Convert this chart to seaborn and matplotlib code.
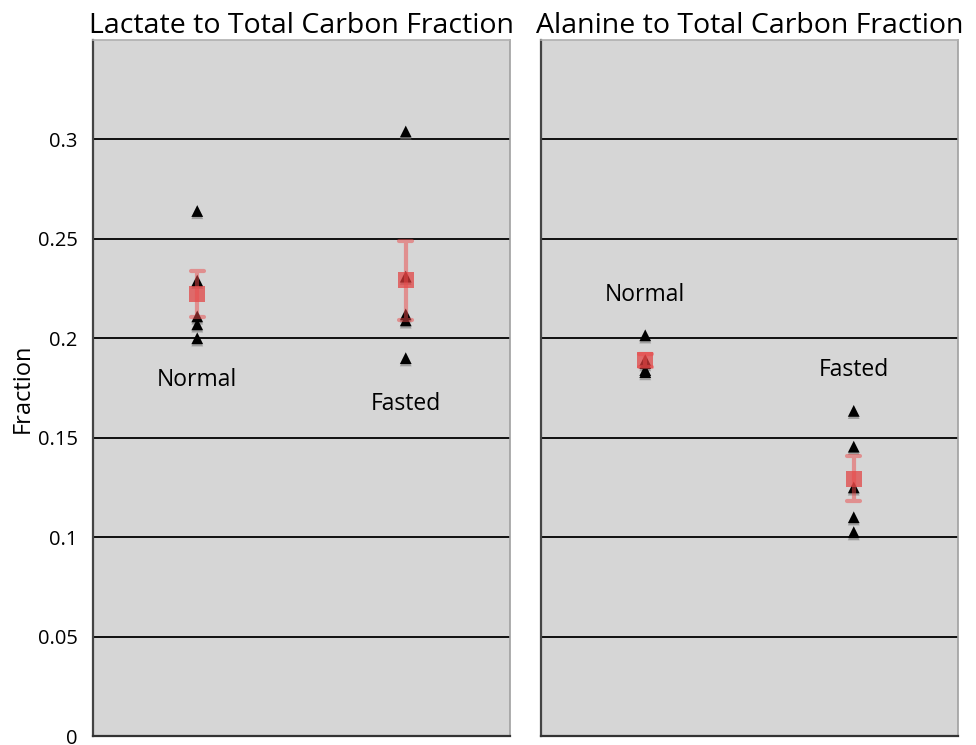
import matplotlib
matplotlib.use("Agg")
import matplotlib.pyplot as plt
import matplotlib.patheffects as pe
from matplotlib.ticker import FuncFormatter
import numpy as np
import pandas as pd
import seaborn as sns

# Carbon fraction measurements per animal
groups = ["Normal", "Fasted"]
lactate_normal = [0.264, 0.229, 0.211, 0.207, 0.200]
lactate_fasted = [0.304, 0.231, 0.212, 0.209, 0.190]
alanine_normal = [0.2015, 0.189, 0.1875, 0.184, 0.183]
alanine_fasted = [0.1635, 0.1455, 0.125, 0.110, 0.1025]

titles = ["Lactate to Total Carbon Fraction", "Alanine to Total Carbon Fraction"]
y_ticks = [0, 0.05, 0.1, 0.15, 0.2, 0.25, 0.3]

# Group label placement (value axis) for each panel
label_y = [[0.179, 0.167], [0.222, 0.184]]

sns.set_style("white")
plt.rcParams["font.family"] = ["Open Sans", "DejaVu Sans"]
plt.rcParams["text.color"] = "black"
plt.rcParams["axes.labelcolor"] = "black"
plt.rcParams["ytick.color"] = "black"
plt.rcParams["xtick.color"] = "black"

fig = plt.figure(figsize=(9.76, 7.45), dpi=100)
W, H = 976, 745
ax_left = fig.add_axes([93 / W, 9 / H, 417 / W, 696 / H])
ax_right = fig.add_axes([541 / W, 9 / H, 417 / W, 696 / H])

panels = [
    (ax_left, lactate_normal, lactate_fasted),
    (ax_right, alanine_normal, alanine_fasted),
]

for i, (ax, normal, fasted) in enumerate(panels):
    df = pd.DataFrame({
        "group": ["Normal"] * len(normal) + ["Fasted"] * len(fasted),
        "value": list(normal) + list(fasted),
    })
    ax.set_facecolor("#d6d6d6")
    ax.set_axisbelow(True)

    sns.stripplot(data=df, x="group", y="value", order=groups, jitter=False,
                  marker="^", size=8.5, color="black", linewidth=0, ax=ax,
                  zorder=3)
    for coll in ax.collections:
        coll.set_path_effects([
            pe.SimplePatchShadow(offset=(0.0, -1.6), shadow_rgbFace="#7a7a7a", alpha=0.6),
            pe.Normal(),
        ])

    n_before = len(ax.lines)
    sns.pointplot(data=df, x="group", y="value", order=groups, errorbar="se",
                  markers="s", linestyle="none", color="#e23c3c",
                  markersize=11.5, capsize=0.06, alpha=0.7,
                  err_kws={"linewidth": 3.0, "alpha": 0.5, "color": "#ea4a4a"},
                  ax=ax)
    for ln in ax.lines[n_before:]:
        ln.set_zorder(5)
        ln.set_markeredgewidth(0)

    for j, g in enumerate(groups):
        ax.text(j, label_y[i][j], g, ha="center", va="center", fontsize=16.5,
                color="black", zorder=6)

    ax.set_xlim(-0.5, 1.5)
    ax.set_ylim(0, 0.35)
    ax.set_yticks(y_ticks)
    ax.yaxis.set_major_formatter(FuncFormatter(lambda v, p: f"{v:g}"))
    ax.set_xticks([-0.5, 0.5, 1.5])
    ax.set_xticklabels([])
    ax.set_xlabel("")
    ax.grid(axis="y", color="black", linewidth=1.3)
    ax.grid(axis="x", visible=False)
    ax.tick_params(axis="y", direction="out", length=4, width=1, color="#333333",
                   labelsize=14.5, labelcolor="black", pad=7)
    ax.tick_params(axis="x", direction="out", length=3, width=1, color="#333333")

    ax.spines["left"].set_color("#444444")
    ax.spines["left"].set_linewidth(1.6)
    ax.spines["bottom"].set_color("#333333")
    ax.spines["bottom"].set_linewidth(1.6)
    ax.spines["top"].set_color("#b0b0b0")
    ax.spines["top"].set_linewidth(1.2)
    ax.spines["right"].set_color("#a0a0a0")
    ax.spines["right"].set_linewidth(1.2)

    ax.set_title(titles[i], fontsize=20.5, pad=5, color="black")

ax_left.set_ylabel("Fraction", fontsize=17, labelpad=2, color="black")
ax_right.set_ylabel("")
ax_right.set_yticklabels([])

fig.savefig("out.png", dpi=100, facecolor="white")
